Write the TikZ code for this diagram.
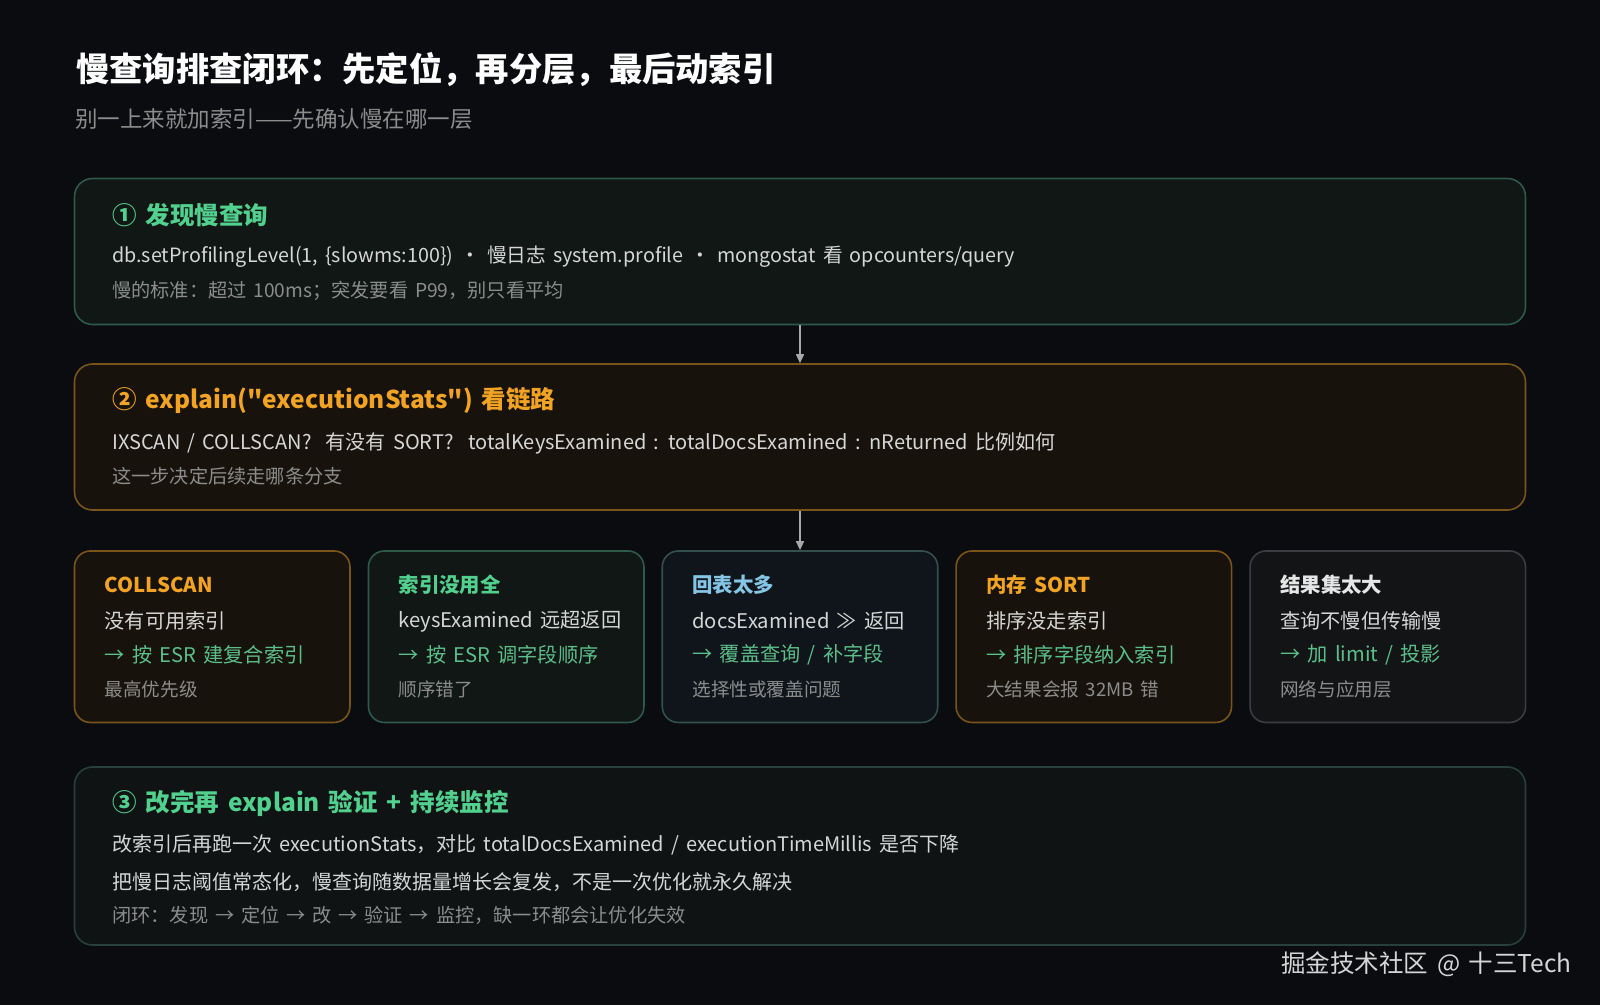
\documentclass[tikz,border=0pt]{standalone}
\usepackage{fontspec}
\defaultfontfeatures{}
\setmainfont{Noto Sans CJK SC}[WordSpace=1.6]
\newfontfamily\qfont{Noto Sans CJK SC}[WordSpace=1.6]
\newcommand{\sq}{{\qfont "}}
\usetikzlibrary{arrows.meta}
\definecolor{bgc}{HTML}{0A0C0F}
\definecolor{gfill}{HTML}{101715}
\definecolor{gline}{HTML}{2E5A49}
\definecolor{ofill}{HTML}{17130C}
\definecolor{oline}{HTML}{7A5418}
\definecolor{bfill}{HTML}{0F151A}
\definecolor{bline}{HTML}{34504E}
\definecolor{nfill}{HTML}{121416}
\definecolor{nline}{HTML}{3A3D41}
\definecolor{dfill}{HTML}{0F1314}
\definecolor{dline}{HTML}{27403A}
\definecolor{tgreen}{HTML}{52D08E}
\definecolor{agreen}{HTML}{5CBE8A}
\definecolor{torange}{HTML}{F2A324}
\definecolor{tblue}{HTML}{86C5E6}
\definecolor{twhite}{HTML}{E6E6E6}
\definecolor{tmain}{HTML}{D6D6D6}
\definecolor{tgrey}{HTML}{8C8C8C}
\definecolor{arrc}{HTML}{A8A8A8}
\tikzset{
  panel/.style={draw, rounded corners=18pt, line width=1.6pt, minimum width=1451pt, minimum height=146pt, inner sep=0pt},
  card/.style={draw, rounded corners=16pt, line width=1.6pt, minimum width=275.5pt, minimum height=171.5pt, inner sep=0pt},
  txt/.style={anchor=west, inner sep=0pt},
  htitle/.style={txt, font=\fontsize{24.5}{28}\selectfont\bfseries},
  bline1/.style={txt, text=tmain, font=\fontsize{20}{24}\selectfont},
  bline2/.style={txt, text=tgrey, font=\fontsize{19.2}{22}\selectfont},
  ctitle/.style={txt, font=\fontsize{20.4}{24}\selectfont\bfseries},
  cline/.style={txt, text=tmain, font=\fontsize{20.2}{24}\selectfont},
  carr/.style={txt, text=agreen, font=\fontsize{20.2}{24}\selectfont},
  cnote/.style={txt, text=tgrey, font=\fontsize{18.6}{22}\selectfont},
  flow/.style={draw=arrc, line width=1.4pt, -{Triangle[length=9pt,width=8pt]}}
}
\begin{document}
\begin{tikzpicture}[x=1pt,y=-1pt]
\fill[bgc] (0,0) rectangle (1600,1005);
\useasboundingbox (0,0) rectangle (1600,1005);

% header
\node[txt, text=white, font=\fontsize{33.3}{38}\selectfont\bfseries] (title) at (76,70) {慢查询排查闭环：先定位，再分层，最后动索引};
\node[txt, text=tgrey, font=\fontsize{22.5}{26}\selectfont] (subtitle) at (75,119) {别一上来就加索引——先确认慢在哪一层};

% panel 1
\node[panel, fill=gfill, draw=gline] (p1) at (800,251.5) {};
\node[htitle, text=tgreen] (p1t) at (112,215) {① 发现慢查询};
\node[bline1, font=\fontsize{19.7}{24}\selectfont] (p1a) at (112,257) {db.setProfilingLevel(1, \{slowms:100\}) · 慢日志 system.profile · mongostat 看 opcounters/query};
\node[bline2] (p1b) at (112,291) {慢的标准：超过 100ms；突发要看 P99，别只看平均};

% panel 2
\node[panel, fill=ofill, draw=oline] (p2) at (800,437) {};
\node[htitle, text=torange] (p2t) at (112,401) {② explain(\sq executionStats\sq) 看链路};
\node[bline1] (p2a) at (112,443) {IXSCAN / COLLSCAN?\ \ 有没有 SORT?\ \ totalKeysExamined : totalDocsExamined : nReturned 比例如何};
\node[bline2] (p2b) at (112,476) {这一步决定后续走哪条分支};

% cards
\node[card, fill=ofill, draw=oline] (c1) at (212.2,636.7) {};
\node[ctitle, text=torange] (c1t) at (104.5,585) {COLLSCAN};
\node[cline] (c1a) at (104.5,621) {没有可用索引};
\node[carr] (c1b) at (104.5,655) {→ 按 ESR 建复合索引};
\node[cnote] (c1c) at (104.5,689) {最高优先级};

\node[card, fill=gfill, draw=gline] (c2) at (506.2,636.7) {};
\node[ctitle, text=tgreen] (c2t) at (398.4,585) {索引没用全};
\node[cline] (c2a) at (398.4,621) {keysExamined 远超返回};
\node[carr] (c2b) at (398.4,655) {→ 按 ESR 调字段顺序};
\node[cnote] (c2c) at (398.4,689) {顺序错了};

\node[card, fill=bfill, draw=bline] (c3) at (800,636.7) {};
\node[ctitle, text=tblue] (c3t) at (692.2,585) {回表太多};
\node[cline] (c3a) at (692.2,621) {docsExamined ≫ 返回};
\node[carr] (c3b) at (692.2,655) {→ 覆盖查询 / 补字段};
\node[cnote] (c3c) at (692.2,689) {选择性或覆盖问题};

\node[card, fill=ofill, draw=oline] (c4) at (1093.8,636.7) {};
\node[ctitle, text=torange] (c4t) at (986,585) {内存 SORT};
\node[cline] (c4a) at (986,621) {排序没走索引};
\node[carr] (c4b) at (986,655) {→ 排序字段纳入索引};
\node[cnote] (c4c) at (986,689) {大结果会报 32MB 错};

\node[card, fill=nfill, draw=nline] (c5) at (1387.8,636.7) {};
\node[ctitle, text=twhite] (c5t) at (1280,585) {结果集太大};
\node[cline] (c5a) at (1280,621) {查询不慢但传输慢};
\node[carr] (c5b) at (1280,655) {→ 加 limit / 投影};
\node[cnote] (c5c) at (1280,689) {网络与应用层};

% panel 3
\node[panel, fill=dfill, draw=dline, minimum height=178pt] (p3) at (800,856) {};
\node[htitle, text=tgreen] (p3t) at (112,803) {③ 改完再 explain 验证 + 持续监控};
\node[bline1] (p3a) at (112,845) {改索引后再跑一次 executionStats，对比 totalDocsExamined / executionTimeMillis 是否下降};
\node[bline1] (p3b) at (112,882) {把慢日志阈值常态化，慢查询随数据量增长会复发，不是一次优化就永久解决};
\node[bline2] (p3c) at (112,915) {闭环：发现 → 定位 → 改 → 验证 → 监控，缺一环都会让优化失效};

% connectors
\draw[flow] (p1.south) -- (p2.north);
\draw[flow] (p2.south) -- (c3.north);

% watermark
\node[anchor=east, inner sep=0pt, text=tmain, font=\fontsize{24.5}{28}\selectfont] (wm) at (1572,964) {掘金技术社区 @ 十三Tech};
\end{tikzpicture}
\end{document}
